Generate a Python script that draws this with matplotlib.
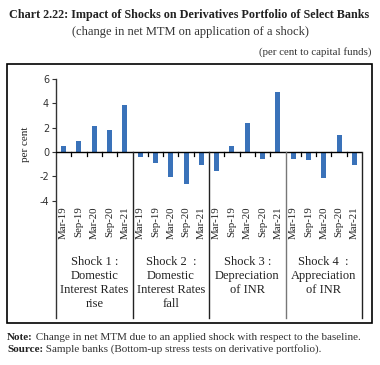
import matplotlib
matplotlib.use("Agg")
import matplotlib.pyplot as plt
from matplotlib.patches import Rectangle

periods = ["Mar-19", "Sep-19", "Mar-20", "Sep-20", "Mar-21"]
groups = ["Shock 1 :\nDomestic\nInterest Rates\nrise",
          "Shock 2  :\nDomestic\nInterest Rates\nfall",
          "Shock 3 :\nDepreciation\nof INR",
          "Shock 4  :\nAppreciation\nof INR"]
shock1 = [0.5, 0.9, 2.1, 1.8, 3.9]
shock2 = [-0.4, -0.9, -2.1, -2.6, -1.1]
shock3 = [-1.6, 0.5, 2.4, -0.55, 4.9]
shock4 = [-0.6, -0.7, -2.15, 1.4, -1.1]
values = shock1 + shock2 + shock3 + shock4
labels = periods * 4
yticks = [-4, -2, 0, 2, 4, 6]

W, H = 380, 365
fig = plt.figure(figsize=(W / 100, H / 100), dpi=100)
serif = ["Liberation Serif", "DejaVu Serif"]

def fx(x):
    return x / W

def fy(y):
    return 1 - y / H

ymin = -13.66
ax = fig.add_axes([fx(56), fy(318), fx(362) - fx(56), fy(79) - fy(318)])
n = len(values)
xs = [i + 0.5 for i in range(n)]
ax.bar(xs, values, width=0.33, color="#3a72b9", zorder=2)
ax.set_xlim(0, n)
ax.set_ylim(ymin, 6)
ax.axhline(0, color="black", lw=1.0, zorder=3)
for s in ["top", "right", "bottom"]:
    ax.spines[s].set_visible(False)
ax.spines["left"].set_color("#333333")
ax.spines["left"].set_linewidth(1.0)
ax.set_xticks([])
ax.set_yticks(yticks)
ax.set_yticklabels([str(t) for t in yticks], family="DejaVu Sans", fontsize=7, color="#333333")
ax.tick_params(axis="y", length=3, width=0.8, color="#333333", pad=2)
ax.set_ylabel("per cent", family=serif, fontsize=8, color="#222222", labelpad=4)
ax.yaxis.set_label_coords(-0.085, (0 - ymin) / (6 - ymin) + 0.03)

# minor ticks at category boundaries
for b in range(1, n):
    if b % 5 != 0:
        ax.plot([b, b], [0, -0.33], color="black", lw=0.9, zorder=3)
# group separators
for b in [5, 10, 15, 20]:
    ax.plot([b, b], [ymin, 0], color="#222222" if b != 15 else "#777777", lw=1.0, clip_on=False, zorder=3)

for x, lab in zip(xs, labels):
    ax.text(x, -4.45, lab, rotation=90, ha="center", va="top", family=serif, fontsize=7.8, color="#222222")
for g, lab in enumerate(groups):
    ax.text(g * 5 + 2.5, -8.6, lab, ha="center", va="top", family=serif, fontsize=9,
            color="#222222", linespacing=1.2)

fig.patches.append(Rectangle((fx(7), fy(322.5)), fx(372) - fx(7), fy(63.5) - fy(322.5),
                             transform=fig.transFigure, fill=False, edgecolor="black", lw=1.2))

fig.text(fx(9), fy(15), "Chart 2.22: Impact of Shocks on Derivatives Portfolio of Select Banks",
         family=serif, fontweight="bold", fontsize=8.7, color="#222222", va="center", ha="left")
fig.text(fx(190), fy(32), "(change in net MTM on application of a shock)",
         family=serif, fontsize=9, color="#333333", va="center", ha="center")
fig.text(fx(371), fy(52), "(per cent to capital funds)",
         family=serif, fontsize=7.8, color="#333333", va="center", ha="right")

t1 = fig.text(fx(7), fy(337), "Note:", family=serif, fontweight="bold", fontsize=8,
              color="#222222", va="center")
ax.annotate(" Change in net MTM due to an applied shock with respect to the baseline.",
            xy=(1, 0.5), xycoords=t1, va="center", ha="left", family=serif, fontsize=8,
            color="#333333", annotation_clip=False)
t2 = fig.text(fx(7), fy(349), "Source:", family=serif, fontweight="bold", fontsize=8,
              color="#222222", va="center")
ax.annotate(" Sample banks (Bottom-up stress tests on derivative portfolio).",
            xy=(1, 0.5), xycoords=t2, va="center", ha="left", family=serif, fontsize=8,
            color="#333333", annotation_clip=False)

fig.savefig("out.png", dpi=100)
